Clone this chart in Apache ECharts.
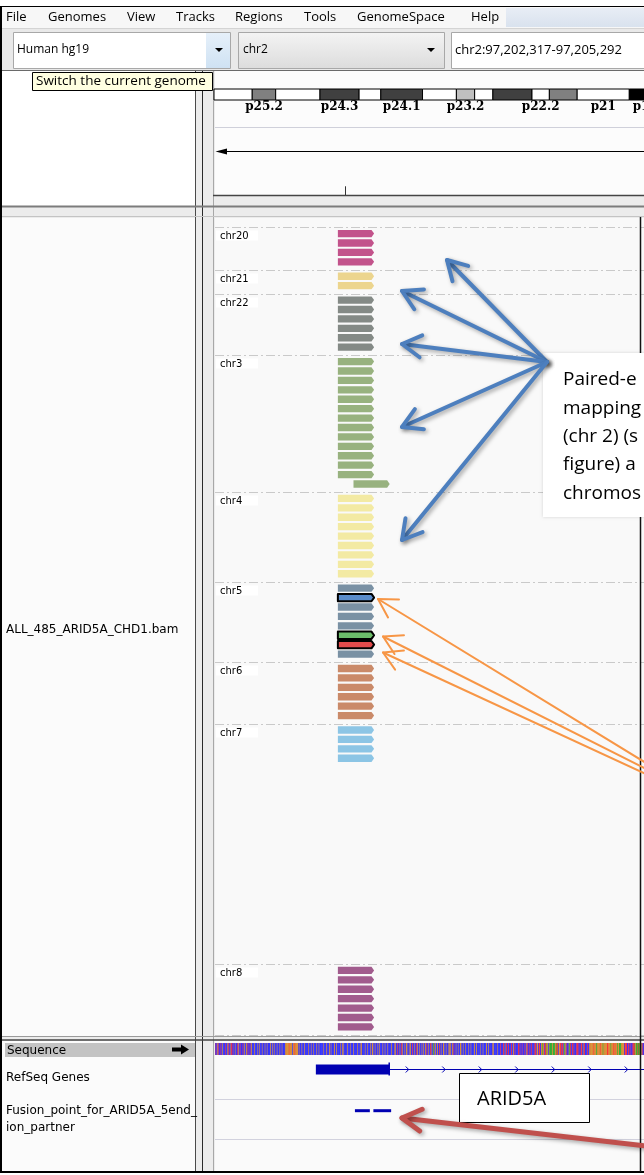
<!DOCTYPE html>
<html>
<head>
<meta charset="utf-8">
<script src="https://cdn.jsdelivr.net/npm/echarts@6/dist/echarts.min.js"></script>
<style>
  html, body { margin: 0; padding: 0; background: #ffffff; }
  #main { width: 644px; height: 1175px; }
</style>
</head>
<body>
<div id="main"></div>
<script>
// ---------------------------------------------------------------------------
// Data
// ---------------------------------------------------------------------------
const genomeName = 'Human hg19';
const locusChr = 'chr2';
const locusStart = 97202317;
const locusEnd = 97205292;
const chr2Length = 243199373;

// hg19 chr2 cytobands at the start of the p arm
const bandNames  = ['p25.3','p25.2','p25.1','p24.3','p24.2','p24.1','p23.3','p23.2','p23.1','p22.3','p22.2','p22.1','p21','p16.3'];
const bandStarts = [0, 4400000, 7100000, 12200000, 16700000, 19200000, 24000000, 27900000, 30000000, 32100000, 36600000, 38600000, 41800000, 47800000];
const bandEnds   = [4400000, 7100000, 12200000, 16700000, 19200000, 24000000, 27900000, 30000000, 32100000, 36600000, 38600000, 41800000, 47800000, 52900000];
const bandStains = ['gneg','gpos50','gneg','gpos75','gneg','gpos75','gneg','gpos25','gneg','gpos75','gneg','gpos50','gneg','gpos100'];
const bandLabels = ['p25.2','p24.3','p24.1','p23.2','p22.2','p21','p16.3'];

// ruler tick positions (bp)
const rulerTicks = [97202500];

// alignment track, grouped by the chromosome of the mate
const trackName = 'ALL_485_ARID5A_CHD1.bam';
const mateChromosomes = ['chr20','chr21','chr22','chr3','chr4','chr5','chr6','chr7','chr8'];
const groupRows = [4, 2, 6, 14, 9, 8, 6, 25, 7];

// reads: [mate chromosome, row in group, start, end]
const reads = [
  ['chr20',0,97202490,97202541],['chr20',1,97202490,97202541],['chr20',2,97202490,97202541],['chr20',3,97202490,97202541],
  ['chr21',0,97202490,97202541],['chr21',1,97202490,97202541],
  ['chr22',0,97202490,97202541],['chr22',1,97202490,97202541],['chr22',2,97202490,97202541],
  ['chr22',3,97202490,97202541],['chr22',4,97202490,97202541],['chr22',5,97202490,97202541],
  ['chr3',0,97202490,97202541],['chr3',1,97202490,97202541],['chr3',2,97202490,97202541],['chr3',3,97202490,97202541],
  ['chr3',4,97202490,97202541],['chr3',5,97202490,97202541],['chr3',6,97202490,97202541],['chr3',7,97202490,97202541],
  ['chr3',8,97202490,97202541],['chr3',9,97202490,97202541],['chr3',10,97202490,97202541],['chr3',11,97202490,97202541],
  ['chr3',12,97202490,97202541],['chr3',13,97202512,97202563],
  ['chr4',0,97202490,97202541],['chr4',1,97202490,97202541],['chr4',2,97202490,97202541],['chr4',3,97202490,97202541],
  ['chr4',4,97202490,97202541],['chr4',5,97202490,97202541],['chr4',6,97202490,97202541],['chr4',7,97202490,97202541],
  ['chr4',8,97202490,97202541],
  ['chr5',0,97202490,97202541],['chr5',1,97202490,97202541],['chr5',2,97202490,97202541],['chr5',3,97202490,97202541],
  ['chr5',4,97202490,97202541],['chr5',5,97202490,97202541],['chr5',6,97202490,97202541],['chr5',7,97202490,97202541],
  ['chr6',0,97202490,97202541],['chr6',1,97202490,97202541],['chr6',2,97202490,97202541],
  ['chr6',3,97202490,97202541],['chr6',4,97202490,97202541],['chr6',5,97202490,97202541],
  ['chr7',0,97202490,97202541],['chr7',1,97202490,97202541],['chr7',2,97202490,97202541],['chr7',3,97202490,97202541],
  ['chr8',0,97202490,97202541],['chr8',1,97202490,97202541],['chr8',2,97202490,97202541],['chr8',3,97202490,97202541],
  ['chr8',4,97202490,97202541],['chr8',5,97202490,97202541],['chr8',6,97202490,97202541]
];
// selected reads: [mate chromosome, row, selection]
const selectedReads = [['chr5',1,'blue'],['chr5',5,'green'],['chr5',6,'red']];

// reference sequence from locusStart
const sequence = [
  'CTCGCTCCTCGCCCTCCGCTCGCTCTCCGCCTCGCTCCCTCGCCGCTCCT',
  'CGCCCGCCCCGCGCCCGCCCGCCGCCCCGCCGCGCCCGCCCGCCGCCCCG',
  'GGGGTGGGGCGGTGGGGCGCCCGCCCGCCCCGCCCGCCGCCCCGCCGCCC',
  'CCGCCCCGCCCGCGCCCCGCCGCCCCGCCGCGCCCCGCCCGCCCCGCCCC',
  'GCCCGCGCCCCGCCGCCCCGCGGCCGCCCGCGCCCCGCCGCCCGCCCCGC',
  'CCGCGCCTCCGCTCGCCGCGGCCGCGCCTCCGCTCGCCGCCGCGCCGCTC',
  'GCCTCGCAGCGCCGCCTCGCCGGCCGCCGCGGCCGCTCCGCCGCCGGCCG',
  'CCGCCCCGCCGCCCCGCCGCCCCGCCCGCCCCGCCGCCCCGCGCCCCGCC',
  'CCTCCCTCGCTCCTCCCTCCGCTCCCCTCTCCTCCCTCGCTCCTCTCCCT',
  'CTCGGCTTCGGAGTCTGAGCGAAAAGAAAGTATCGGTTCTCGAGCTCCGA',
  'TCCTCTCCCTTCTCCTTCGCTCCCTCCGGGGGGTGGGAGGGGTGGGAGGG',
  'GGTTGGGAGGGTGTGGAGGAAAGGGGCTTTCCTCTCCTCTTAGAATAGAA',
  'GCTCA'
].join('');

// RefSeq gene ARID5A (+ strand): exons and transcript span
const geneName = 'ARID5A';
const geneExons = [[97202459, 97202563]];
const geneSpan = [97202459, 97214118];

// fusion point features
const fusionFeatures = [[97202514, 97202535], [97202540, 97202565]];

// ---------------------------------------------------------------------------
// Layout & styles
// ---------------------------------------------------------------------------
const W = 644, H = 1175;
const dataLeft = 215;
const dataPanelWidth = 2113;           // full data-panel width; only its left part is on screen
const bpPerPx = (locusEnd - locusStart) / dataPanelWidth;
const viewEnd = locusStart + (W - dataLeft) * bpPerPx;
const ideoLeft = 214, ideoWidth = 430;
const ideoMax = chr2Length * ideoWidth / dataPanelWidth;

const alnTop = 227.3, alnBottom = 1035;
const groupGapRows = 0.53;
const readPadRows = 0.28;
const readRows = 0.78;

const featTop = 1041, featHeight = 130;
const seqTrack = { top: 2, height: 12 };
const geneTrack = { center: 28, exonHeight: 10 };
const fusionTrack = { center: 69.7, height: 3 };

const stainColor = { gneg: '#ffffff', gpos25: '#c0c0c0', gpos50: '#808080', gpos75: '#404040', gpos100: '#000000' };
const mateColor = {
  chr20: '#c2538b', chr21: '#ecd58e', chr22: '#848a86', chr3: '#98b27f', chr4: '#f3eaa3',
  chr5: '#7a91a4', chr6: '#ca8a69', chr7: '#8cc5e5', chr8: '#a15b8d'
};
const selectedColor = { blue: '#5b8dcb', green: '#6cbd6a', red: '#e24b4b' };
const baseColor = { A: '#009600', C: '#0000ff', G: '#d17105', T: '#ff0000' };
const geneColor = '#0000b2';
const uiFont = '"Open Sans", "Noto Sans", sans-serif';
const trackFont = '"DejaVu Sans", sans-serif';

// group start rows
const groupStart = [];
(function () {
  let acc = 0;
  for (let i = 0; i < groupRows.length; i++) {
    groupStart.push(acc);
    acc += groupRows[i] + groupGapRows;
  }
  groupStart.push(acc);
})();
const alnMax = groupStart[groupStart.length - 1];

// ---------------------------------------------------------------------------
// Window chrome (graphic elements)
// ---------------------------------------------------------------------------
const chrome = [];
function rect(x, y, w, h, fill, stroke, lw, z, extra) {
  chrome.push(Object.assign({ type: 'rect', silent: true, z: z == null ? 0 : z,
    shape: { x: x, y: y, width: w, height: h },
    style: { fill: fill || 'none', stroke: stroke || null, lineWidth: lw || 1 } }, extra || {}));
}
function line(x1, y1, x2, y2, color, lw, z, dash) {
  chrome.push({ type: 'line', silent: true, z: z == null ? 1 : z,
    shape: { x1: x1, y1: y1, x2: x2, y2: y2 },
    style: { stroke: color, lineWidth: lw || 1, lineDash: dash || null } });
}
function text(x, y, str, font, fill, align, z) {
  chrome.push({ type: 'text', silent: true, z: z == null ? 5 : z, x: x, y: y,
    style: { text: str, font: font, fill: fill || '#000', align: align || 'left', verticalAlign: 'middle' } });
}
function poly(points, fill, z) {
  chrome.push({ type: 'polygon', silent: true, z: z == null ? 5 : z, shape: { points: points }, style: { fill: fill } });
}
function arrow(tail, tip, color, lw, wing, z, shadow) {
  const dx = tail[0] - tip[0], dy = tail[1] - tip[1];
  const a = Math.atan2(dy, dx), s = Math.PI / 6;
  const w1 = [tip[0] + wing * Math.cos(a - s), tip[1] + wing * Math.sin(a - s)];
  const w2 = [tip[0] + wing * Math.cos(a + s), tip[1] + wing * Math.sin(a + s)];
  const st = { stroke: color, lineWidth: lw, fill: null, lineCap: 'round', lineJoin: 'round' };
  if (shadow) Object.assign(st, { shadowColor: 'rgba(0,0,0,0.35)', shadowBlur: 4, shadowOffsetX: 2, shadowOffsetY: 2 });
  chrome.push({ type: 'polyline', silent: true, z: z, shape: { points: [tail, tip] }, style: st });
  chrome.push({ type: 'polyline', silent: true, z: z, shape: { points: [w1, tip, w2] }, style: Object.assign({}, st) });
}
const vgrad = (c0, c1) => new echarts.graphic.LinearGradient(0, 0, 0, 1, [{ offset: 0, color: c0 }, { offset: 1, color: c1 }]);

// window background
rect(0, 6, W, 1167, '#ececec', null, 1, -5);
// menu bar
rect(2, 7, W, 21, '#f7f7f7', null, 1, -4);
rect(506, 8, 140, 19, vgrad('#e8edf5', '#d9e2ee'), null, 1, -3);
const menus = [['File', 6], ['Genomes', 48], ['View', 127], ['Tracks', 176], ['Regions', 235], ['Tools', 304], ['GenomeSpace', 357], ['Help', 471]];
menus.forEach(m => text(m[1], 17, m[0], '13px ' + uiFont, '#000'));
// toolbar
rect(2, 28, W, 42, '#e9e9e9', null, 1, -4);
line(2, 28.5, W, 28.5, '#d4d4d4', 1, -3);
rect(13.5, 32.5, 217, 36, '#ffffff', '#a8a8a8', 1, -3);
rect(206, 33, 24, 35, vgrad('#e6f0fa', '#cfe2f3'), null, 1, -2);
poly([[215, 48], [223, 48], [219, 52]], '#000', 2);
text(17, 50, genomeName, '12px ' + uiFont, '#000');
rect(238.5, 32.5, 206, 36, vgrad('#f4f4f4', '#dcdcdc'), '#a8a8a8', 1, -3);
poly([[427, 48], [435, 48], [431, 52]], '#000', 2);
text(243, 50, locusChr, '12px ' + uiFont, '#000');
rect(451.5, 32.5, 200, 36, '#ffffff', '#a8a8a8', 1, -3);
text(455, 50, 'chr2:97,202,317-97,205,292', '13px ' + uiFont, '#000');
line(0, 70.5, W, 70.5, '#6a6a6a', 1, -2);

// name panel (left), divider, data panel
rect(2, 71, 193, 135, '#ffffff', null, 1, -3);
rect(215, 71, W - 215, 124, '#fcfcfc', null, 1, -3);
rect(2, 218, 193, 818, '#fbfbfb', null, 1, -3);
rect(215, 218, W - 215, 818, '#f9f9f9', null, 1, -3);
rect(2, 1041, 193, 130, '#fbfbfb', null, 1, -3);
rect(215, 1041, W - 215, 130, '#fafafa', null, 1, -3);
line(195.5, 71, 195.5, 1171, '#4a4a4a', 1, -1);
line(202.5, 71, 202.5, 1171, '#2a2a2a', 1, -1);
line(213.5, 71, 213.5, 1171, '#a8a8a8', 1, -1);
// header separators
line(215, 127.5, W, 127.5, '#cfd0da', 1, -1);
line(213, 195.5, W, 195.5, '#444444', 1.5, -1);
line(2, 206.5, W, 206.5, '#7c7c7c', 2, -1);
line(2, 216.5, W, 216.5, '#c4c4c4', 1, -1);
// span indicator of the ruler
line(218, 151.5, W, 151.5, '#000000', 1, 3);
poly([[215.5, 151.5], [227, 148.5], [227, 154.5]], '#000', 3);
// alignment / feature panel borders
line(2, 1036.5, W, 1036.5, '#9a9a9a', 1, -1);
line(2, 1040, W, 1040, '#444444', 1.5, -1);
line(215, 1099.5, W, 1099.5, '#d2d2de', 1, -1);
line(215, 1139.5, W, 1139.5, '#d2d2de', 1, -1);
// frame
line(1, 6, 1, 1173, '#000', 2, 9);
line(0, 6.5, W, 6.5, '#000', 1, 9);
line(0, 1172, W, 1172, '#000', 2, 9);
line(640.5, 217, 640.5, 1172, '#111', 1.5, 9);

// track names
text(6, 630, trackName, '12px ' + trackFont, '#000');
rect(5, 1043, 190, 14, '#c3c3c3', null, 1, -1);
text(7, 1050.5, 'Sequence', '12px ' + trackFont, '#000');
poly([[172, 1047.5], [181, 1047.5], [181, 1044.5], [189, 1049.5], [181, 1054.5], [181, 1051.5], [172, 1051.5]], '#000', 3);
text(6, 1078, 'RefSeq Genes', '12px ' + trackFont, '#000');
text(6, 1111, 'Fusion_point_for_ARID5A_5end_', '12px ' + trackFont, '#000');
text(6, 1128, 'ion_partner', '12px ' + trackFont, '#000');

// tooltip
rect(32.5, 72.5, 180, 18, '#ffffe1', '#000', 1, 20);
text(36, 81.5, 'Switch the current genome', '13.5px ' + uiFont, '#000', 'left', 21);

// callout boxes
rect(543, 353, 110, 164, '#ffffff', null, 1, 12, { style: { fill: '#ffffff', shadowColor: 'rgba(0,0,0,0.15)', shadowBlur: 3 } });
['Paired-e', 'mapping', '(chr 2) (s', 'figure) a', 'chromos'].forEach((s, i) =>
  text(563, 380 + i * 28.3, s, '19px ' + uiFont, '#000', 'left', 13));
rect(459.5, 1073.5, 130, 49, '#ffffff', '#000', 1, 12);
text(477, 1099, geneName, '20px ' + uiFont, '#000', 'left', 13);

// callout arrows
const blueOrigin = [547, 362];
[[447, 260], [402, 291], [402, 344], [402, 427], [402, 540]].forEach(t => arrow(blueOrigin, t, '#4d7fbe', 4, 22, 14, true));
[[[646, 763], [378, 599]], [[646, 769], [383, 636.5]], [[646, 774], [383, 652.5]]].forEach(p => arrow(p[0], p[1], '#f79646', 2, 21, 14, false));
arrow([646, 1146], [402, 1118], '#c0504d', 5, 22, 14, true);

// ---------------------------------------------------------------------------
// Series render functions
// ---------------------------------------------------------------------------
function renderBand(params, api) {
  const i = params.dataIndex;
  const p0 = api.coord([api.value(0), 1]);
  const p1 = api.coord([api.value(1), 0]);
  const children = [{
    type: 'rect',
    shape: { x: p0[0], y: p0[1], width: p1[0] - p0[0], height: p1[1] - p0[1] },
    style: { fill: stainColor[bandStains[i]], stroke: '#000', lineWidth: 1 }
  }];
  if (bandLabels.indexOf(bandNames[i]) >= 0) {
    children.push({
      type: 'text', x: (p0[0] + p1[0]) / 2, y: p1[1] + 6.5,
      style: { text: bandNames[i], font: 'bold 12px "DejaVu Serif", serif', fill: '#000', align: 'center', verticalAlign: 'middle' }
    });
  }
  return { type: 'group', children: children };
}

function renderTick(params, api) {
  const p = api.coord([api.value(0), 0]);
  const q = api.coord([api.value(0), 0.13]);
  return { type: 'line', shape: { x1: Math.round(p[0]) + 0.5, y1: p[1], x2: Math.round(p[0]) + 0.5, y2: q[1] }, style: { stroke: '#333', lineWidth: 1 } };
}

function renderGroup(params, api) {
  const i = params.dataIndex;
  const a = api.coord([locusStart, api.value(0)]);
  const y = Math.round(a[1]) + 0.5;
  const children = [{
    type: 'line', shape: { x1: dataLeft, y1: y, x2: W, y2: y },
    style: { stroke: '#cacaca', lineWidth: 1, lineDash: [9, 3, 2, 3] }
  }];
  if (i < mateChromosomes.length) {
    children.push({ type: 'rect', shape: { x: dataLeft + 1, y: y + 3, width: 42, height: 10 }, style: { fill: '#ffffff' } });
    children.push({ type: 'text', x: dataLeft + 5, y: y + 8.5,
      style: { text: mateChromosomes[i], font: '10px ' + trackFont, fill: '#000', align: 'left', verticalAlign: 'middle' } });
  }
  return { type: 'group', children: children };
}

function renderRead(params, api) {
  const r = reads[params.dataIndex];
  const yTop = api.value(1);
  const p0 = api.coord([api.value(0), yTop]);
  const p1 = api.coord([api.value(2), yTop]);
  const h = api.size([0, readRows])[1];
  const x0 = p0[0], x1 = p1[0], y0 = p0[1];
  const tip = 2.6;
  const pts = [[x0, y0], [x1 - tip, y0], [x1, y0 + h / 2], [x1 - tip, y0 + h], [x0, y0 + h]];
  const sel = selectedReads.find(s => s[0] === r[0] && s[1] === r[1]);
  if (sel) {
    return { type: 'polygon', shape: { points: pts }, style: { fill: selectedColor[sel[2]], stroke: '#000', lineWidth: 2, lineJoin: 'round' }, z2: 5 };
  }
  return { type: 'polygon', shape: { points: pts }, style: { fill: mateColor[r[0]] } };
}

function renderBase(params, api) {
  const p0 = api.coord([api.value(0), seqTrack.top]);
  const p1 = api.coord([api.value(0) + 1, seqTrack.top + seqTrack.height]);
  return { type: 'rect', shape: { x: p0[0], y: p0[1], width: p1[0] - p0[0], height: p1[1] - p0[1] },
    style: { fill: baseColor[sequence[params.dataIndex]] } };
}

function renderGene(params, api) {
  const c = api.coord([api.value(0), geneTrack.center]);
  const e = api.coord([api.value(1), geneTrack.center]);
  const g = api.coord([geneSpan[1], geneTrack.center]);
  const hh = geneTrack.exonHeight / 2;
  const yc = Math.round(c[1]) + 0.5;
  const children = [
    { type: 'line', shape: { x1: e[0], y1: yc, x2: g[0], y2: yc }, style: { stroke: geneColor, lineWidth: 1 } },
    { type: 'rect', shape: { x: c[0], y: yc - hh, width: e[0] - c[0], height: hh * 2 }, style: { fill: geneColor } },
    { type: 'line', shape: { x1: e[0] - 0.5, y1: yc - hh - 2, x2: e[0] - 0.5, y2: yc + hh + 1 }, style: { stroke: geneColor, lineWidth: 1.5 } }
  ];
  for (let x = e[0] + 18; x < Math.min(g[0], W + 10); x += 36.5) {
    children.push({ type: 'polyline', shape: { points: [[x - 2, yc - 3], [x + 1, yc], [x - 2, yc + 3]] }, style: { stroke: geneColor, lineWidth: 1, fill: null } });
  }
  return { type: 'group', children: children };
}

function renderFusion(params, api) {
  const p0 = api.coord([api.value(0), fusionTrack.center]);
  const p1 = api.coord([api.value(1), fusionTrack.center]);
  return { type: 'rect', shape: { x: p0[0], y: p0[1] - fusionTrack.height / 2, width: p1[0] - p0[0], height: fusionTrack.height },
    style: { fill: geneColor } };
}

// ---------------------------------------------------------------------------
// Chart
// ---------------------------------------------------------------------------
const hidden = { show: false };
const chart = echarts.init(document.getElementById('main'), null, { renderer: 'canvas', width: W, height: H });
chart.setOption({
  animation: false,
  backgroundColor: '#ffffff',
  grid: [
    { left: ideoLeft, top: 89, width: ideoWidth, height: 11 },
    { left: dataLeft, top: 128, width: W - dataLeft, height: 67 },
    { left: dataLeft, top: alnTop, width: W - dataLeft, height: alnBottom - alnTop },
    { left: dataLeft, top: featTop, width: W - dataLeft, height: featHeight }
  ],
  xAxis: [
    Object.assign({ type: 'value', gridIndex: 0, min: 0, max: ideoMax }, hidden),
    Object.assign({ type: 'value', gridIndex: 1, min: locusStart, max: viewEnd }, hidden),
    Object.assign({ type: 'value', gridIndex: 2, min: locusStart, max: viewEnd }, hidden),
    Object.assign({ type: 'value', gridIndex: 3, min: locusStart, max: viewEnd }, hidden)
  ],
  yAxis: [
    Object.assign({ type: 'value', gridIndex: 0, min: 0, max: 1 }, hidden),
    Object.assign({ type: 'value', gridIndex: 1, min: 0, max: 1 }, hidden),
    Object.assign({ type: 'value', gridIndex: 2, min: 0, max: alnMax, inverse: true }, hidden),
    Object.assign({ type: 'value', gridIndex: 3, min: 0, max: featHeight, inverse: true }, hidden)
  ],
  graphic: { elements: chrome },
  series: [
    { type: 'custom', name: 'ideogram', xAxisIndex: 0, yAxisIndex: 0, clip: false,
      encode: { x: [0, 1] }, data: bandStarts.map((s, i) => [s, bandEnds[i]]), renderItem: renderBand },
    { type: 'custom', name: 'ruler', xAxisIndex: 1, yAxisIndex: 1, clip: false,
      encode: { x: 0 }, data: rulerTicks.map(t => [t]), renderItem: renderTick },
    { type: 'custom', name: 'groups', xAxisIndex: 2, yAxisIndex: 2, clip: false,
      encode: { y: 0 }, data: groupStart.map(g => [g]), renderItem: renderGroup },
    { type: 'custom', name: trackName, xAxisIndex: 2, yAxisIndex: 2, clip: false, z: 3,
      encode: { x: [0, 2], y: 1 },
      data: reads.map(r => [r[2], groupStart[mateChromosomes.indexOf(r[0])] + readPadRows + r[1], r[3]]),
      renderItem: renderRead },
    { type: 'custom', name: 'Sequence', xAxisIndex: 3, yAxisIndex: 3, clip: false,
      encode: { x: 0 }, data: sequence.split('').map((b, i) => [locusStart + i]), renderItem: renderBase },
    { type: 'custom', name: 'RefSeq Genes', xAxisIndex: 3, yAxisIndex: 3, clip: false,
      encode: { x: [0, 1] }, data: geneExons, renderItem: renderGene },
    { type: 'custom', name: 'Fusion_point', xAxisIndex: 3, yAxisIndex: 3, clip: false,
      encode: { x: [0, 1] }, data: fusionFeatures, renderItem: renderFusion }
  ]
});
</script>
</body>
</html>
